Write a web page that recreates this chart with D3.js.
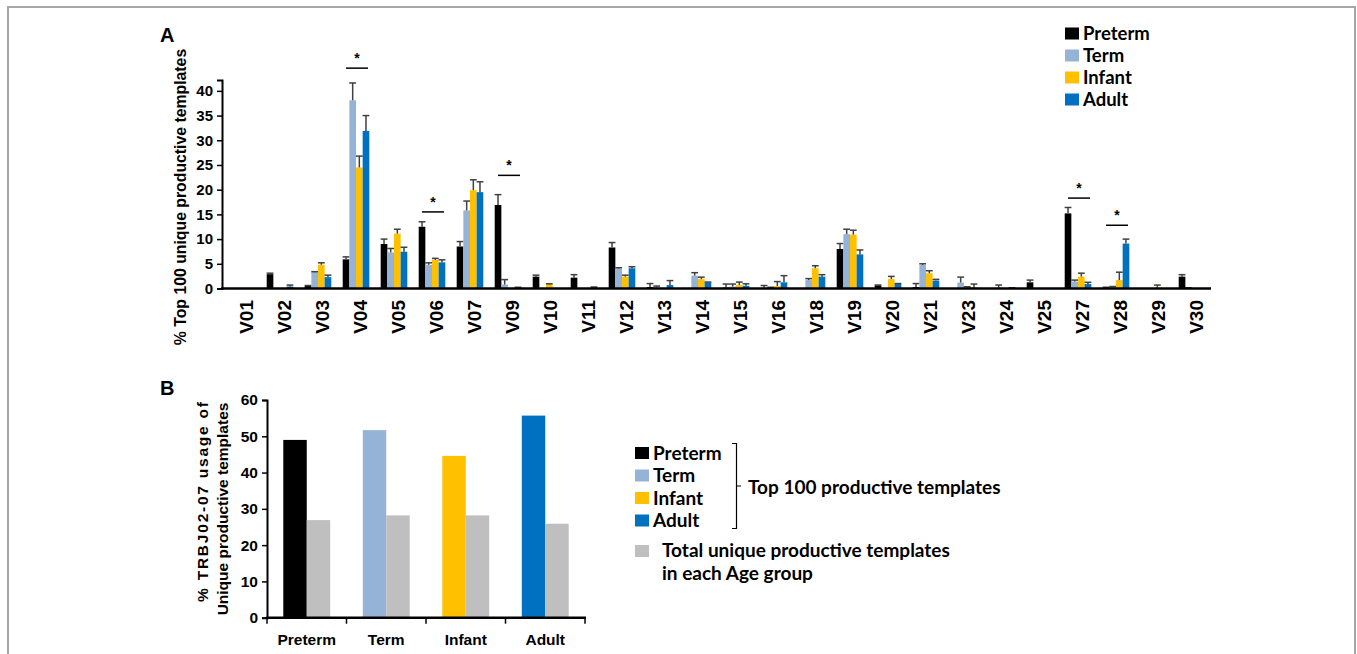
<!DOCTYPE html>
<html><head><meta charset="utf-8">
<script src="https://cdn.jsdelivr.net/npm/d3@7"></script>
<style>
body{margin:0;background:#fff;}
svg{display:block;}
text{font-family:"Liberation Sans",Arial,sans-serif;font-weight:bold;fill:#000;}
.leg{font-family:Lato,"Open Sans",sans-serif;font-weight:700;}
</style></head>
<body>
<svg id="c" width="1357" height="654"></svg>
<script>
// ---------- Panel A data ----------
const categories = ["V01","V02","V03","V04","V05","V06","V07","V09","V10","V11","V12","V13","V14","V15","V16","V18","V19","V20","V21","V23","V24","V25","V27","V28","V29","V30"];
const seriesNames = ["Preterm","Term","Infant","Adult"];
const preterm   = [0, 2.9, 0.5, 5.9, 9.0, 12.5, 8.5, 16.9, 2.4, 2.2, 8.3, 0.3, 0, 0.2, 0.1, 0, 8.0, 0.65, 0.3, 0, 0, 1.25, 15.2, 0.2, 0, 2.4];
const pretermErr= [0, 0.2, 0.1, 0.5, 1.0, 1.0, 1.0, 2.1, 0.3, 0.6, 1.0, 0.7, 0, 0.7, 0.5, 0, 1.1, 0.05, 0.7, 0, 0, 0.45, 1.2, 0.05, 0, 0.4];
const term      = [0, 0, 3.3, 38.1, 7.3, 4.8, 15.8, 0.8, 0, 0, 4.0, 0.3, 2.6, 0.4, 0.2, 1.7, 11.0, 0, 4.75, 1.2, 0.2, 0, 1.4, 0.3, 0, 0.1];
const termErr   = [0, 0, 0.1, 3.5, 0.8, 0.4, 1.9, 1.0, 0, 0, 0.2, 0.2, 0.6, 0.5, 0.05, 0.3, 1.0, 0, 0.25, 1.1, 0.5, 0, 0.3, 0.1, 0, 0.05];
const infant    = [0, 0, 4.8, 24.5, 11.1, 5.8, 19.9, 0, 0.85, 0, 2.4, 0, 1.9, 0.7, 0.5, 4.1, 10.9, 1.9, 3.1, 0.3, 0, 0, 2.4, 1.7, 0.2, 0];
const infantErr = [0, 0, 0.4, 2.3, 0.9, 0.3, 2.1, 0, 0.1, 0, 0.3, 0, 0.4, 0.6, 0.9, 0.5, 0.9, 0.55, 0.5, 0.05, 0, 0, 0.7, 1.6, 0.5, 0];
const adult     = [0, 0.4, 2.3, 31.9, 7.45, 5.3, 19.5, 0.2, 0, 0.25, 4.1, 0.7, 1.2, 0.55, 1.25, 2.4, 6.9, 0.9, 1.6, 0.2, 0.1, 0, 0.9, 9.1, 0, 0];
const adultErr  = [0, 0.3, 0.4, 3.1, 0.9, 0.5, 2.1, 0.05, 0, 0.05, 0.3, 0.9, 0.1, 0.4, 1.35, 0.4, 0.9, 0.1, 0.25, 0.7, 0.05, 0, 0.35, 0.9, 0, 0];
const yTicksA = [0,5,10,15,20,25,30,35,40];
const sigCats  = ["V04","V06","V09","V27","V28"];
const sigLevel = [44.6, 15.5, 22.9, 18.3, 12.8];

// ---------- Panel B data ----------
const groups = ["Preterm","Term","Infant","Adult"];
const top100 = [49.0, 51.7, 44.6, 55.7];
const totalUnique = [26.9, 28.2, 28.2, 25.9];
const yTicksB = [0,10,20,30,40,50,60];

const colors = {Preterm:"#000000", Term:"#95b3d7", Infant:"#ffc000", Adult:"#0070c0"};
const grey = "#bfbfbf";

const svg = d3.select("#c");
// frame
svg.append("rect").attr("x",8).attr("y",7).attr("width",1347).attr("height",700)
  .attr("fill","none").attr("stroke","#a6a6a6").attr("stroke-width",2);

// ================= Panel A =================
const values = [preterm, term, infant, adult];
const errs = [pretermErr, termErr, infantErr, adultErr];
const xA = d3.scaleBand().domain(categories).range([223,1211]).paddingInner(0.3).paddingOuter(0.15);
const xInner = d3.scaleBand().domain(seriesNames).range([0, xA.bandwidth()]);
const yA = d3.scaleLinear().domain([0,42.2]).range([288.5,80]);

svg.append("text").attr("x",160).attr("y",42).style("font-size","20px").text("A");

const gA = svg.append("g");
seriesNames.forEach((s,si)=>{
  const g = gA.append("g");
  categories.forEach((c,ci)=>{
    const v = values[si][ci], e = errs[si][ci];
    const x = xA(c)+xInner(s), w = xInner.bandwidth();
    if (v>0) g.append("rect").attr("x",x).attr("y",yA(v)).attr("width",w).attr("height",yA(0)-yA(v)).attr("fill",colors[s]);
    if (v>0 || e>0) {
      const cx = x+w/2;
      g.append("line").attr("x1",cx).attr("x2",cx).attr("y1",yA(v)).attr("y2",yA(v+e)).attr("stroke","#404040").attr("stroke-width",1.5);
      g.append("line").attr("x1",cx-3.4).attr("x2",cx+3.4).attr("y1",yA(v+e)).attr("y2",yA(v+e)).attr("stroke","#404040").attr("stroke-width",1.5);
    }
  });
});

// y axis A
const axA = svg.append("g").attr("transform","translate(222,0)")
  .call(d3.axisLeft(yA).tickValues(yTicksA).tickSize(5).tickPadding(4));
axA.select(".domain").attr("stroke-width",2);
axA.selectAll(".tick line").attr("stroke-width",1.5);
axA.selectAll(".tick text").style("font-size","15px").style("font-family","Liberation Sans, Arial").style("font-weight","bold").attr("fill","#000");
// x axis line
svg.append("line").attr("x1",221).attr("x2",1211).attr("y1",yA(0)).attr("y2",yA(0)).attr("stroke","#000").attr("stroke-width",2.5);
// x labels
categories.forEach(c=>{
  svg.append("text").attr("transform",`translate(${xA(c)+xA.bandwidth()/2+4},300) rotate(-90)`)
    .attr("text-anchor","end").attr("dy","0.35em").style("font-size","19px").text(c);
});
// y title
svg.append("text").attr("transform","translate(186,197) rotate(-90)").attr("text-anchor","middle")
  .style("font-size","15.8px").text("% Top 100 unique productive templates");
// significance
sigCats.forEach((c,i)=>{
  const cx = xA(c)+xA.bandwidth()/2+1, yy = yA(sigLevel[i]);
  svg.append("line").attr("x1",cx-11).attr("x2",cx+11).attr("y1",yy).attr("y2",yy).attr("stroke","#000").attr("stroke-width",1.5);
  svg.append("text").attr("x",cx).attr("y",yy-5).attr("text-anchor","middle").style("font-size","14px").text("*");
});
// legend A
seriesNames.forEach((s,i)=>{
  const y = 27.5 + i*22;
  svg.append("rect").attr("x",1065).attr("y",y).attr("width",14).attr("height",12).attr("fill",colors[s]);
  svg.append("text").attr("class","leg").attr("x",1083).attr("y",y+12.5).style("font-size","18.5px").text(s);
});

// ================= Panel B =================
svg.append("text").attr("x",160).attr("y",395).style("font-size","20px").text("B");
const xB = d3.scaleBand().domain(groups).range([267,585]).paddingInner(0.41).paddingOuter(0.205);
const xBi = d3.scaleBand().domain(["top","total"]).range([0,xB.bandwidth()]);
const yB = d3.scaleLinear().domain([0,60]).range([617.7,400]);
groups.forEach((g,i)=>{
  svg.append("rect").attr("x",xB(g)+xBi("top")).attr("y",yB(top100[i])).attr("width",xBi.bandwidth()).attr("height",yB(0)-yB(top100[i])).attr("fill",colors[g]);
  svg.append("rect").attr("x",xB(g)+xBi("total")).attr("y",yB(totalUnique[i])).attr("width",xBi.bandwidth()).attr("height",yB(0)-yB(totalUnique[i])).attr("fill",grey);
});
const axB = svg.append("g").attr("transform","translate(267,0)")
  .call(d3.axisLeft(yB).tickValues(yTicksB).tickSize(5).tickPadding(4));
axB.select(".domain").attr("stroke-width",2);
axB.selectAll(".tick line").attr("stroke-width",1.5);
axB.selectAll(".tick text").style("font-size","15.5px").style("font-family","Liberation Sans, Arial").style("font-weight","bold").attr("fill","#000");
svg.append("line").attr("x1",266).attr("x2",586).attr("y1",yB(0)).attr("y2",yB(0)).attr("stroke","#000").attr("stroke-width",2.5);
// boundary ticks
d3.range(groups.length+1).forEach(i=>{
  const x = 267 + i*(318/groups.length);
  svg.append("line").attr("x1",x).attr("x2",x).attr("y1",yB(0)).attr("y2",yB(0)+6).attr("stroke","#000").attr("stroke-width",1.5);
});
groups.forEach(g=>{
  svg.append("text").attr("x",xB(g)+xB.bandwidth()/2).attr("y",645).attr("text-anchor","middle").style("font-size","15.5px").text(g);
});
svg.append("text").attr("transform","translate(208,502) rotate(-90)").attr("text-anchor","middle").style("font-size","15.5px")
  .attr("textLength",200).attr("lengthAdjust","spacing").text("% TRBJ02-07 usage of");
svg.append("text").attr("transform","translate(228,509) rotate(-90)").attr("text-anchor","middle").style("font-size","15.5px").text("Unique productive templates");

// legend B
seriesNames.forEach((s,i)=>{
  const y = 447 + i*22.5;
  svg.append("rect").attr("x",635).attr("y",y).attr("width",14).attr("height",12).attr("fill",colors[s]);
  svg.append("text").attr("class","leg").attr("x",653).attr("y",y+12.5).style("font-size","19px").text(s);
});
svg.append("path").attr("d","M732,443.5 H736.5 V528.5 H732 M736.5,486 H741").attr("fill","none").attr("stroke","#000").attr("stroke-width",1.2);
svg.append("text").attr("class","leg").attr("x",748).attr("y",494).style("font-size","19px").text("Top 100 productive templates");
svg.append("rect").attr("x",635).attr("y",545).attr("width",14).attr("height",12).attr("fill",grey);
svg.append("text").attr("class","leg").attr("x",662).attr("y",557).style("font-size","19px").text("Total unique productive templates");
svg.append("text").attr("class","leg").attr("x",662).attr("y",580).style("font-size","19px").text("in each Age group");
</script>
</body></html>
